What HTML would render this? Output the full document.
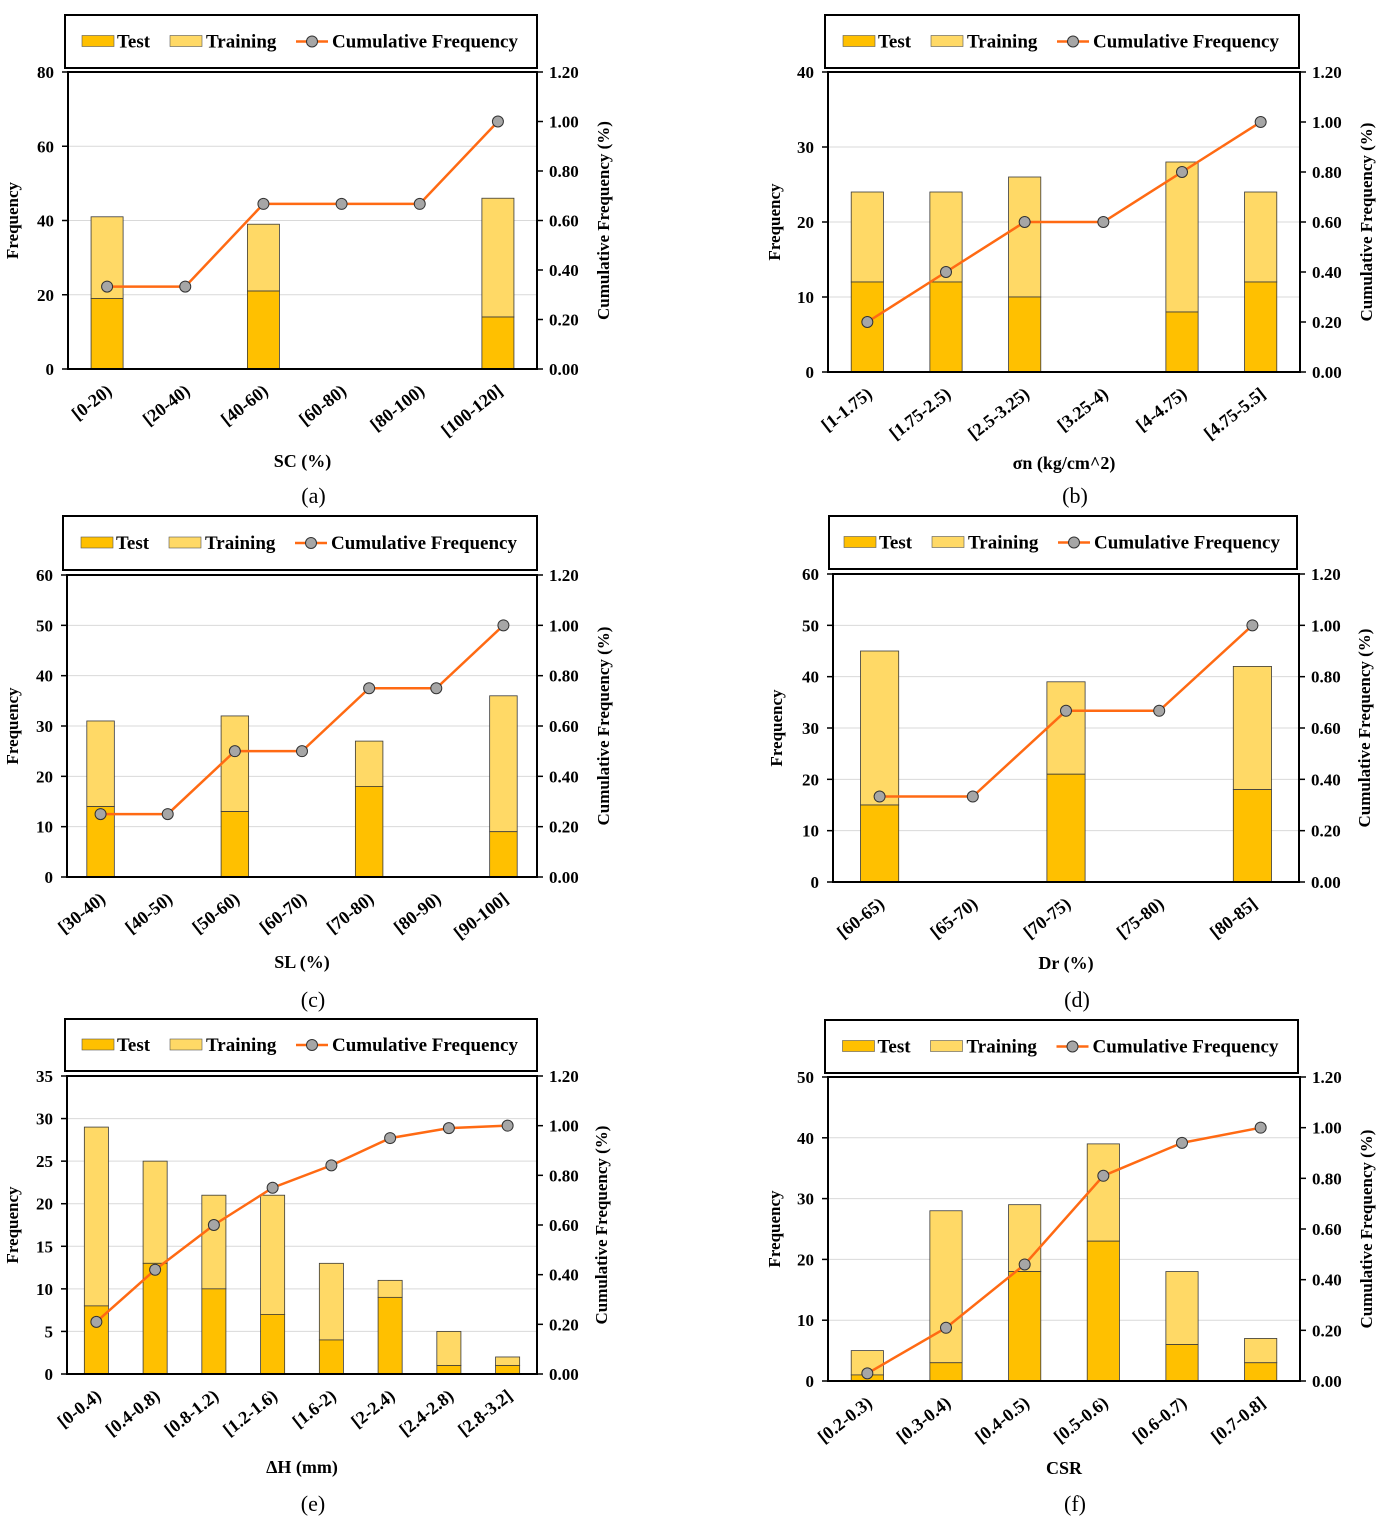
<!DOCTYPE html>
<html><head><meta charset="utf-8"><style>
html,body{margin:0;padding:0;background:#fff;}
svg text{font-family:"Liberation Serif",serif;font-weight:bold;fill:#000;}
</style></head><body>
<svg id="fig" width="1384" height="1520" viewBox="0 0 1384 1520" xmlns="http://www.w3.org/2000/svg"></svg>
<script>
// Panel (a)
const catsA=["[0-20)","[20-40)","[40-60)","[60-80)","[80-100)","[100-120]"];
const testA=[19,0,21,0,0,14];
const trainA=[22,0,18,0,0,32];
const cumA=[0.333,0.333,0.667,0.667,0.667,1.0];
// Panel (b)
const catsB=["[1-1.75)","[1.75-2.5)","[2.5-3.25)","[3.25-4)","[4-4.75)","[4.75-5.5]"];
const testB=[12,12,10,0,8,12];
const trainB=[12,12,16,0,20,12];
const cumB=[0.2,0.4,0.6,0.6,0.8,1.0];
// Panel (c)
const catsC=["[30-40)","[40-50)","[50-60)","[60-70)","[70-80)","[80-90)","[90-100]"];
const testC=[14,0,13,0,18,0,9];
const trainC=[17,0,19,0,9,0,27];
const cumC=[0.25,0.25,0.5,0.5,0.75,0.75,1.0];
// Panel (d)
const catsD=["[60-65)","[65-70)","[70-75)","[75-80)","[80-85]"];
const testD=[15,0,21,0,18];
const trainD=[30,0,18,0,24];
const cumD=[0.333,0.333,0.667,0.667,1.0];
// Panel (e)
const catsE=["[0-0.4)","[0.4-0.8)","[0.8-1.2)","[1.2-1.6)","[1.6-2)","[2-2.4)","[2.4-2.8)","[2.8-3.2]"];
const testE=[8,13,10,7,4,9,1,1];
const trainE=[21,12,11,14,9,2,4,1];
const cumE=[0.21,0.42,0.6,0.75,0.84,0.95,0.99,1.0];
// Panel (f)
const catsF=["[0.2-0.3)","[0.3-0.4)","[0.4-0.5)","[0.5-0.6)","[0.6-0.7)","[0.7-0.8]"];
const testF=[1,3,18,23,6,3];
const trainF=[4,25,11,16,12,4];
const cumF=[0.03,0.21,0.46,0.81,0.94,1.0];
const leftMaxes=[80,40,60,60,35,50];
const leftSteps=[20,10,10,10,5,10];
const rightTicks=[0,0.2,0.4,0.6,0.8,1.0,1.2];

const NS="http://www.w3.org/2000/svg";
const svg=document.getElementById('fig');
function mk(tag,attrs,parent,txt){const e=document.createElementNS(NS,tag);for(const k in attrs)e.setAttribute(k,attrs[k]);if(txt!==undefined)e.textContent=txt;(parent||svg).appendChild(e);return e;}

const panels=[
 {id:'a',cats:catsA,test:testA,train:trainA,cum:cumA,L:68,R:537,T:72,B:369,lg:[65,15,537,68],xt:"SC (%)",xty:467,lab:"(a)",laby:503,lx:18,rx:609},
 {id:'b',cats:catsB,test:testB,train:trainB,cum:cumB,L:828,R:1300,T:72,B:372,lg:[825,15,1299,68],xt:"σn (kg/cm^2)",xty:469,lab:"(b)",laby:503,lx:780,rx:1372},
 {id:'c',cats:catsC,test:testC,train:trainC,cum:cumC,L:67,R:537,T:575,B:877,lg:[63,516,537,570],xt:"SL (%)",xty:968,lab:"(c)",laby:1007,lx:18,rx:609},
 {id:'d',cats:catsD,test:testD,train:trainD,cum:cumD,L:833,R:1299,T:574,B:882,lg:[829,516,1297,569],xt:"Dr (%)",xty:969,lab:"(d)",laby:1007,lx:782,rx:1370},
 {id:'e',cats:catsE,test:testE,train:trainE,cum:cumE,L:67,R:537,T:1076,B:1374,lg:[65,1019,537,1071],xt:"ΔH (mm)",xty:1473,lab:"(e)",laby:1511,lx:18,rx:607},
 {id:'f',cats:catsF,test:testF,train:trainF,cum:cumF,L:828,R:1300,T:1077,B:1381,lg:[825,1020,1298,1073],xt:"CSR",xty:1474,lab:"(f)",laby:1511,lx:780,rx:1372}
];

panels.forEach((p,pi)=>{
 const g=mk('g',{});
 
 
 const lmax=leftMaxes[pi], lstep=leftSteps[pi];
 const yL=v=>p.B-(v/lmax)*(p.B-p.T);
 const yR=v=>p.B-(v/1.2)*(p.B-p.T);
 const n=p.cats.length, bw=(p.R-p.L)/n;
 const xC=i=>p.L+bw*(i+0.5);
 for(let v=0;v<=lmax+1e-9;v+=lstep){
  const y=yL(v);
  if(v>0&&v<lmax){const gl=mk('line',{x1:p.L,x2:p.R,y1:y,y2:y,stroke:'#d9d9d9','stroke-width':1},g);}
  mk('line',{x1:p.L-6,x2:p.L,y1:y,y2:y,stroke:'#000','stroke-width':1.5},g);
  const t=mk('text',{x:p.L-14,y:y+6,'text-anchor':'end','font-size':17},g,String(v));
  
 }
 rightTicks.forEach(v=>{
  const y=yR(v);
  mk('line',{x1:p.R,x2:p.R+6,y1:y,y2:y,stroke:'#000','stroke-width':1.5},g);
  const t=mk('text',{x:p.R+12,y:y+6,'text-anchor':'start','font-size':17},g,v.toFixed(2));
  
 });
 const w=bw*0.41;
 p.cats.forEach((c,i)=>{
  const x=xC(i)-w/2;
  const tot=p.test[i]+p.train[i];
  if(p.train[i]>0){const r=mk('rect',{x:x,y:yL(tot),width:w,height:yL(p.test[i])-yL(tot),fill:'#FFD966',stroke:'#3a3a3a','stroke-width':0.8},g);}
  if(p.test[i]>0){const r=mk('rect',{x:x,y:yL(p.test[i]),width:w,height:p.B-yL(p.test[i]),fill:'#FFC000',stroke:'#3a3a3a','stroke-width':0.8},g);}
  const ax=xC(i)+6, ay=p.B+24;
  const t=mk('text',{x:ax,y:ay,'text-anchor':'end','font-size':18,transform:`rotate(-38 ${ax} ${ay})`},g,c);
  
 });
 const pts=p.cum.map((v,i)=>xC(i)+','+yR(v)).join(' ');
 const pl=mk('polyline',{points:pts,fill:'none',stroke:'#FF6A13','stroke-width':2.5},g);
 
 p.cum.forEach((v,i)=>{const c=mk('circle',{cx:xC(i),cy:yR(v),r:5.5,fill:'#A6A6A6',stroke:'#333','stroke-width':1},g);});
 const fr=mk('rect',{x:p.L,y:p.T,width:p.R-p.L,height:p.B-p.T,fill:'none',stroke:'#000','stroke-width':2},g);
 
 const ly=(p.T+p.B)/2;
 let t=mk('text',{x:p.lx,y:ly,'text-anchor':'middle','font-size':17,transform:`rotate(-90 ${p.lx} ${ly})`},g,'Frequency');
 
 t=mk('text',{x:p.rx,y:ly,'text-anchor':'middle','font-size':17,transform:`rotate(-90 ${p.rx} ${ly})`},g,'Cumulative Frequency (%)');
 
 const mid=(p.L+p.R)/2;
 t=mk('text',{x:mid,y:p.xty,'text-anchor':'middle','font-size':18},g,p.xt);
 
 t=mk('text',{x:mid+11,y:p.laby,'text-anchor':'middle','font-size':22,style:'font-weight:normal'},g,p.lab);
 
 const [lx1,ly1,lx2,ly2]=p.lg;
 const lgG=mk('g',{},g);
 
 mk('rect',{x:lx1,y:ly1,width:lx2-lx1,height:ly2-ly1,fill:'#fff',stroke:'#000','stroke-width':2},lgG);
 const cy=(ly1+ly2)/2, ox=lx1+(lx2-lx1-472)/2;
 mk('rect',{x:ox+17,y:cy-6,width:32,height:11,fill:'#FFC000',stroke:'#555','stroke-width':0.6},lgG);
 mk('text',{x:ox+52,y:cy+6,'font-size':19},lgG,'Test');
 mk('rect',{x:ox+105,y:cy-6,width:32,height:11,fill:'#FFD966',stroke:'#555','stroke-width':0.6},lgG);
 mk('text',{x:ox+141,y:cy+6,'font-size':19},lgG,'Training');
 mk('line',{x1:ox+231,x2:ox+263,y1:cy,y2:cy,stroke:'#FF6A13','stroke-width':2.5},lgG);
 mk('circle',{cx:ox+247,cy:cy,r:5.5,fill:'#A6A6A6',stroke:'#333','stroke-width':1},lgG);
 mk('text',{x:ox+267,y:cy+6,'font-size':19},lgG,'Cumulative Frequency');
});
</script>
</body></html>
